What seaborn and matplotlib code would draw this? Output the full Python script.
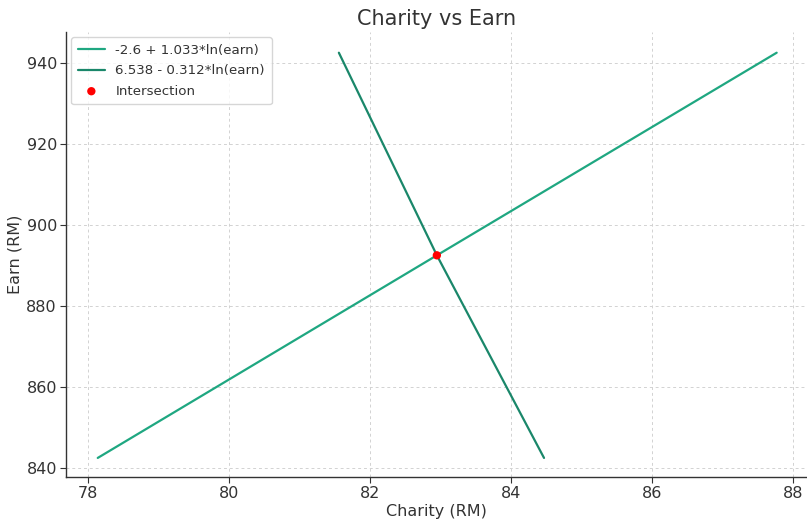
import matplotlib
matplotlib.use("Agg")
import matplotlib.pyplot as plt
import seaborn as sns
import pandas as pd

# Data
line1_label = "-2.6 + 1.033*ln(earn)"
line1_charity = [78.14, 82.95, 87.77]
line1_earn = [842.5, 892.5, 942.5]

line2_label = "6.538 - 0.312*ln(earn)"
line2_charity = [81.56, 82.95, 84.47]
line2_earn = [942.5, 892.5, 842.5]

inter_charity = [82.95]
inter_earn = [892.5]

sns.set_style("whitegrid")
plt.rcParams["font.family"] = ["DejaVu Sans"]

fig = plt.figure(figsize=(8.07, 5.21), dpi=100)
ax = fig.add_axes([0.0818, 0.0845, 0.9182, 0.854])

df1 = pd.DataFrame({"Charity": line1_charity, "Earn": line1_earn})
df2 = pd.DataFrame({"Charity": line2_charity, "Earn": line2_earn})
sns.lineplot(data=df1, x="Charity", y="Earn", ax=ax, color="#1fa781",
             linewidth=1.6, label=line1_label, sort=False)
sns.lineplot(data=df2, x="Charity", y="Earn", ax=ax, color="#1a876a",
             linewidth=1.6, label=line2_label, sort=False)
sns.scatterplot(x=inter_charity, y=inter_earn, ax=ax, color="red", s=36,
                edgecolor="none", label="Intersection", zorder=5)

ax.set_xlim(77.69, 88.2)
ax.set_ylim(837.8, 947.6)
ax.set_xticks([78, 80, 82, 84, 86, 88])
ax.set_yticks([840, 860, 880, 900, 920, 940])

txt = "#333333"
ax.set_title("Charity vs Earn", fontsize=15, color=txt, pad=5)
ax.set_xlabel("Charity (RM)", fontsize=11.5, color=txt, labelpad=2)
ax.set_ylabel("Earn (RM)", fontsize=11.5, color=txt, labelpad=3)
ax.tick_params(axis="both", labelsize=11.5, colors=txt, length=4,
               width=0.8, direction="out", left=True, bottom=True, pad=2.5)

ax.grid(True, linestyle=(0, (3, 3)), color="#d2d2d2", linewidth=0.7)
for s in ["top", "right"]:
    ax.spines[s].set_visible(False)
for s in ["left", "bottom"]:
    ax.spines[s].set_color("#333333")
    ax.spines[s].set_linewidth(1.0)

leg = ax.legend(loc="upper left", fontsize=9.6, frameon=True,
                borderpad=0.5, labelspacing=0.55, handlelength=2.0,
                borderaxespad=0.4)
leg.get_frame().set_edgecolor("#cccccc")
for t in leg.get_texts():
    t.set_color(txt)

fig.savefig("out.png", dpi=100)
